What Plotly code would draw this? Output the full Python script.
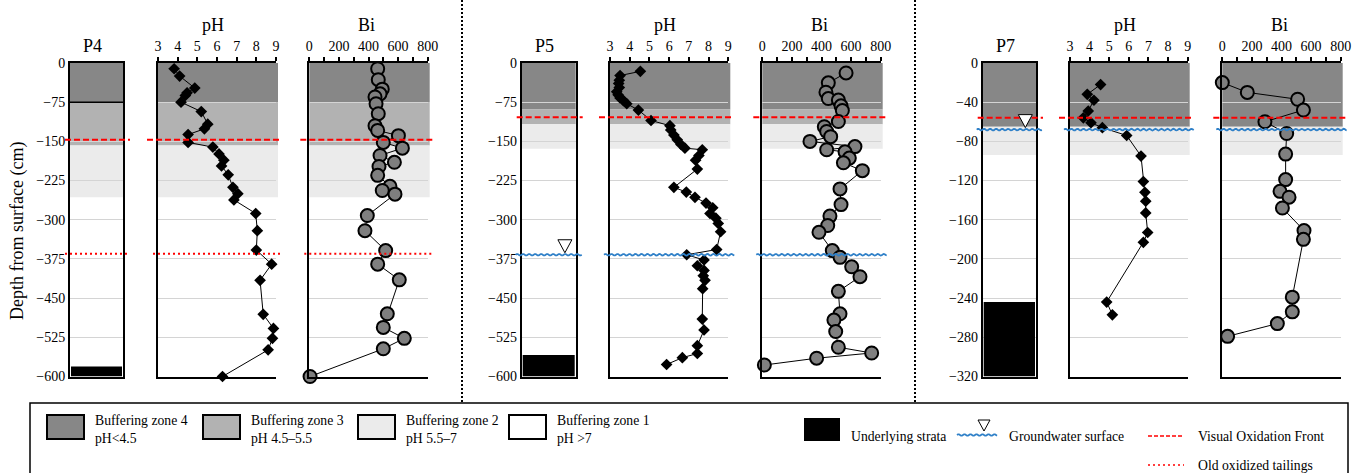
import math
import plotly.graph_objects as go

W, H = 1357, 473

# ---------------- data ----------------
profiles = ["P4", "P5", "P7"]
depth_max = [600, 600, 320]
depth_step = [75, 75, 40]

ph_ticks = [3, 4, 5, 6, 7, 8, 9]
bi_ticks = [0, 200, 400, 600, 800]

# buffering zones (top, bottom depth in cm)
p4_zone4 = [0, -75]
p4_zone3 = [-75, -158]
p4_zone2 = [-158, -257]
p4_under = [-581, -600]

p5_zone4 = [0, -89]
p5_zone3 = [-89, -117]
p5_zone2 = [-117, -164]
p5_under = [-559, -600]

p7_zone4 = [0, -65]
p7_zone3 = None
p7_zone2 = [-65, -94]
p7_under = [-244, -320]

p4_oxfront = -147
p5_oxfront = -104
p7_oxfront = -56
p4_old_oxidized = -365
p5_groundwater = -367
p7_groundwater = -68

p4_ph_depth = [-11, -25, -48, -57, -62, -75, -93, -117, -126, -137, -152, -161, -174, -186, -197,
               -214, -238, -250, -262, -288, -321, -358, -385, -416, -481, -508, -527, -549, -600]
p4_ph = [3.82, 4.1, 4.87, 4.48, 4.39, 4.17, 5.2, 5.53, 5.36, 4.53, 4.53, 5.79, 6.1, 6.35, 6.23,
         6.57, 6.81, 7.06, 6.86, 7.97, 8.05, 8.0, 8.78, 8.19, 8.35, 8.87, 8.82, 8.6, 6.28]

p4_bi_depth = [-11, -32, -50, -59, -65, -78, -97, -120, -129, -139, -152, -163, -177, -190, -198,
               -215, -236, -244, -251, -292, -321, -359, -385, -415, -480, -506, -527, -547, -600]
p4_bi = [462, 466, 493, 478, 444, 451, 466, 444, 462, 602, 500, 629, 478, 575, 471,
         462, 545, 493, 579, 392, 376, 516, 462, 608, 527, 500, 642, 500, 5]

p5_ph_depth = [-16, -24, -33, -39, -47, -55, -61, -67, -72, -78, -90, -110, -120, -128, -138,
               -147, -156, -163, -166, -177, -186, -203, -238, -247, -257, -268, -277, -288, -297,
               -307, -323, -357, -367, -377, -388, -397, -407, -416, -432, -490, -511, -541, -556,
               -564, -577]
p5_ph = [4.54, 3.51, 3.47, 3.44, 3.47, 3.34, 3.41, 3.51, 3.68, 3.85, 4.44, 5.08, 6.04, 6.08, 6.24,
         6.41, 6.6, 6.8, 7.68, 7.51, 7.34, 7.43, 6.24, 6.87, 7.31, 7.87, 8.21, 8.07, 8.37,
         8.49, 8.61, 8.41, 6.89, 7.77, 7.43, 7.77, 7.73, 7.82, 7.7, 7.68, 7.77, 7.43, 7.43,
         6.67, 5.87]

p5_bi_depth = [-19, -38, -56, -68, -71, -82, -91, -112, -122, -131, -141, -150, -160, -166, -170,
               -182, -191, -206, -241, -271, -293, -311, -324, -359, -372, -390, -409, -437, -480,
               -492, -514, -544, -555, -565, -578]
p5_bi = [566, 446, 430, 446, 514, 532, 541, 514, 419, 435, 462, 322, 626, 435, 559,
         588, 548, 676, 525, 532, 457, 442, 383, 473, 525, 604, 660, 514, 525,
         484, 496, 514, 739, 367, 14]

p7_ph_depth = [-22, -32, -38, -49, -56, -61, -66, -74, -95, -121, -132, -141, -153, -173, -183, -244, -257]
p7_ph = [4.56, 3.88, 4.22, 3.93, 3.68, 4.07, 4.65, 5.89, 6.62, 6.74, 6.82, 6.86, 6.86, 6.96, 6.74, 4.87, 5.16]

p7_bi_depth = [-20, -30, -37, -48, -60, -72, -93, -119, -131, -137, -148, -171, -180, -239, -254, -266, -279]
p7_bi = [0, 169, 509, 548, 288, 435, 428, 428, 390, 451, 406, 552, 548, 473, 473, 372, 36]

zone_labels = ["Buffering zone 4<br>pH&lt;4.5", "Buffering zone 3<br>pH 4.5–5.5",
               "Buffering zone 2<br>pH 5.5–7", "Buffering zone 1<br>pH >7"]

# ---------------- styles / layout ----------------
FONT = "Liberation Serif"
Z_COLORS = ["#878787", "#b2b2b2", "#ebebeb", "#ffffff"]
GRID = "#d4d4d4"
RED = "#ff0000"
BLUE = "#2f80c8"
LEG_SIZE = 13.7

col_px = [(70, 123), (521.7, 575.7), (982.7, 1036)]
ph_px = [(158, 276), (610, 728.3), (1070, 1187.7)]
bi_px = [(309.3, 427.7), (762.3, 880.7), (1222.3, 1340.7)]
top_px, bot_px = 63, 376.5


def PX(x):
    return x / W


def PY(y):
    return 1 - y / H


groups = [
    dict(zones=[p4_zone4, p4_zone3, p4_zone2], under=p4_under, ox=p4_oxfront, old=p4_old_oxidized,
         gw=None, ph=(p4_ph_depth, p4_ph), bi=(p4_bi_depth, p4_bi)),
    dict(zones=[p5_zone4, p5_zone3, p5_zone2], under=p5_under, ox=p5_oxfront, old=None,
         gw=p5_groundwater, ph=(p5_ph_depth, p5_ph), bi=(p5_bi_depth, p5_bi)),
    dict(zones=[p7_zone4, p7_zone3, p7_zone2], under=p7_under, ox=p7_oxfront, old=None,
         gw=p7_groundwater, ph=(p7_ph_depth, p7_ph), bi=(p7_bi_depth, p7_bi)),
]

fig = go.Figure()
layout_axes = {}
shapes = []
annotations = []
TICKFONT = dict(family=FONT, size=14, color="black")


def sfx(k):
    return "" if k == 1 else str(k)


def wave_path(length, amp=0.8, period=6.0):
    pts = []
    n = int(length / 1.0)
    for i in range(n + 1):
        x = i * length / n
        y = amp * math.sin(2 * math.pi * x / period)
        pts.append(f"{x:.2f},{y:.2f}")
    return "M" + " L".join(pts)


def label(text, x, y, size=LEG_SIZE, xanchor="center", yanchor="middle", **kw):
    d = dict(text=text, xref="paper", yref="paper", x=PX(x), y=PY(y), xanchor=xanchor,
             yanchor=yanchor, showarrow=False, font=dict(size=size))
    d.update(kw)
    annotations.append(d)


for g, grp in enumerate(groups):
    dmax = depth_max[g]
    ids = [3 * g + 1, 3 * g + 2, 3 * g + 3]
    pxs = [col_px[g], ph_px[g], bi_px[g]]
    yd = [PY(bot_px), PY(top_px)]
    for j, k in enumerate(ids):
        s = sfx(k)
        xd = [PX(pxs[j][0]), PX(pxs[j][1])]
        yax = dict(domain=yd, anchor="x" + s, range=[-dmax, 0], dtick=depth_step[g], tick0=0,
                   showgrid=True, gridcolor=GRID, gridwidth=1, zeroline=False,
                   showline=True, linecolor="black", linewidth=2, ticks="",
                   showticklabels=(j == 0), tickfont=TICKFONT, mirror=(j == 0),
                   automargin=False)
        if j == 0:
            xax = dict(domain=xd, anchor="y" + s, range=[0, 1], showgrid=False, zeroline=False,
                       showline=True, mirror=True, linecolor="black", linewidth=2,
                       showticklabels=False, ticks="", automargin=False)
        elif j == 1:
            xax = dict(domain=xd, anchor="y" + s, range=[3, 9], tickvals=ph_ticks, side="top",
                       ticks="outside", ticklen=4, tickwidth=1.5, tickcolor="black",
                       showline=True, mirror=True, linecolor="black", linewidth=2,
                       showgrid=False, zeroline=False, tickfont=TICKFONT, automargin=False)
        else:
            xax = dict(domain=xd, anchor="y" + s, range=[0, 800], tickvals=bi_ticks, side="top",
                       ticks="outside", ticklen=4, tickwidth=1.5, tickcolor="black",
                       minor=dict(dtick=100, tick0=0, ticks="outside", ticklen=4, tickcolor="black",
                                  tickwidth=1.5, showgrid=False),
                       showline=True, mirror=True, linecolor="black", linewidth=2,
                       showgrid=False, zeroline=False, tickfont=TICKFONT, automargin=False)
        layout_axes["xaxis" + s] = xax
        layout_axes["yaxis" + s] = yax

        # zone shading
        x_left = PX(pxs[j][0])
        x_right = PX(pxs[j][1] + (0 if j == 0 else 2))
        for zi, zone in enumerate(grp["zones"]):
            if zone is None:
                continue
            shapes.append(dict(type="rect", xref="paper", yref="y" + s, x0=x_left, x1=x_right,
                               y0=zone[0], y1=zone[1], fillcolor=Z_COLORS[zi], line=dict(width=0),
                               layer="below"))
        if j == 0:
            # underlying strata drawn above the gridlines
            shapes.append(dict(type="rect", xref="paper", yref="y" + s,
                               x0=PX(pxs[j][0] + 1), x1=PX(pxs[j][1] - 1),
                               y0=grp["under"][0], y1=grp["under"][1], fillcolor="black",
                               line=dict(width=0), layer="above"))
            if g == 0:
                shapes.append(dict(type="line", xref="paper", yref="y" + s, x0=x_left, x1=x_right,
                                   y0=grp["zones"][0][1], y1=grp["zones"][0][1],
                                   line=dict(color="black", width=1.5), layer="above"))

    # traces
    s_col, s_ph, s_bi = sfx(ids[0]), sfx(ids[1]), sfx(ids[2])
    fig.add_trace(go.Scatter(x=[None], y=[None], xaxis="x" + s_col, yaxis="y" + s_col,
                             showlegend=False, hoverinfo="skip"))
    pd_, pv = grp["ph"]
    fig.add_trace(go.Scatter(x=pv, y=pd_, xaxis="x" + s_ph, yaxis="y" + s_ph, mode="lines+markers",
                             line=dict(color="black", width=1),
                             marker=dict(symbol="diamond", size=9, color="black",
                                         line=dict(width=0)),
                             cliponaxis=False, showlegend=False))
    bd, bv = grp["bi"]
    fig.add_trace(go.Scatter(x=bv, y=bd, xaxis="x" + s_bi, yaxis="y" + s_bi, mode="lines+markers",
                             line=dict(color="black", width=1),
                             marker=dict(symbol="circle", size=13, color="#7f7f7f",
                                         line=dict(width=2, color="black")),
                             cliponaxis=False, showlegend=False))

    # reference lines
    ext = [(5, 7), (11, 4), (9, 5)]
    for j, k in enumerate(ids):
        s = sfx(k)
        shapes.append(dict(type="line", xref="paper", yref="y" + s,
                           x0=PX(pxs[j][0] - ext[j][0]), x1=PX(pxs[j][1] + ext[j][1]),
                           y0=grp["ox"], y1=grp["ox"],
                           line=dict(color=RED, width=2, dash="6px,3px"), layer="above"))
        if grp["old"] is not None:
            shapes.append(dict(type="line", xref="paper", yref="y" + s,
                               x0=PX(pxs[j][0] - 5), x1=PX(pxs[j][1] + 5),
                               y0=grp["old"], y1=grp["old"],
                               line=dict(color=RED, width=2, dash="2px,3px"), layer="above"))
        if grp["gw"] is not None:
            x0 = pxs[j][0] - 6
            length = (pxs[j][1] + 6) - x0
            shapes.append(dict(type="path", xref="paper", yref="y" + s,
                               xsizemode="pixel", ysizemode="pixel",
                               xanchor=PX(x0), yanchor=grp["gw"],
                               path=wave_path(length),
                               line=dict(color=BLUE, width=1.8), layer="above"))
    if grp["gw"] is not None:
        cx = pxs[0][0] + 0.8 * (pxs[0][1] - pxs[0][0])
        shapes.append(dict(type="path", xref="paper", yref="y" + s_col,
                           xsizemode="pixel", ysizemode="pixel",
                           xanchor=PX(cx), yanchor=grp["gw"],
                           path="M-7,15 L7,15 L0,2 Z", fillcolor="white",
                           line=dict(color="black", width=1), layer="above"))

    # titles
    label(profiles[g], (pxs[0][0] + pxs[0][1]) / 2 - 4, 46, size=18)
    label("pH", (pxs[1][0] + pxs[1][1]) / 2 - 4, 25, size=18)
    label("Bi", (pxs[2][0] + pxs[2][1]) / 2 - 2, 25, size=18)

label("Depth from surface (cm)", 17, 231, size=18, textangle=-90)

# separators
for sx in [462, 915]:
    shapes.append(dict(type="line", xref="paper", yref="paper", x0=PX(sx), x1=PX(sx),
                       y0=PY(0), y1=PY(403), line=dict(color="black", width=2, dash="2px,2px")))

# legend box
shapes.append(dict(type="rect", xref="paper", yref="paper", x0=PX(30), x1=PX(1348),
                   y0=PY(403), y1=PY(490), line=dict(color="black", width=1.5)))

sw_x = [47, 203, 358, 509]
for i, lbl in enumerate(zone_labels):
    shapes.append(dict(type="rect", xref="paper", yref="paper", x0=PX(sw_x[i]), x1=PX(sw_x[i] + 37),
                       y0=PY(415), y1=PY(439), fillcolor=Z_COLORS[i],
                       line=dict(color="black", width=2)))
    label(lbl, sw_x[i] + 46, 411, xanchor="left", yanchor="top", align="left")

shapes.append(dict(type="rect", xref="paper", yref="paper", x0=PX(804), x1=PX(840),
                   y0=PY(418), y1=PY(441), fillcolor="black", line=dict(width=0)))
label("Underlying strata", 849, 436, xanchor="left")
shapes.append(dict(type="path", xref="paper", yref="paper", xsizemode="pixel", ysizemode="pixel",
                   xanchor=PX(957), yanchor=PY(435), path=wave_path(40),
                   line=dict(color=BLUE, width=1.8)))
shapes.append(dict(type="path", xref="paper", yref="paper", xsizemode="pixel", ysizemode="pixel",
                   xanchor=PX(984), yanchor=PY(432), path="M-6,12 L6,12 L0,1 Z", fillcolor="white",
                   line=dict(color="black", width=1)))
label("Groundwater surface", 1007, 436, xanchor="left")
shapes.append(dict(type="line", xref="paper", yref="paper", x0=PX(1148), x1=PX(1184),
                   y0=PY(436), y1=PY(436), line=dict(color=RED, width=1.5, dash="4px,2px")))
label("Visual Oxidation Front", 1196, 436, xanchor="left")
shapes.append(dict(type="line", xref="paper", yref="paper", x0=PX(1148), x1=PX(1184),
                   y0=PY(465), y1=PY(465), line=dict(color=RED, width=1.5, dash="2px,3px")))
label("Old oxidized tailings", 1196, 465, xanchor="left")

fig.update_layout(
    width=W, height=H,
    margin=dict(l=0, r=0, t=0, b=0, autoexpand=False),
    paper_bgcolor="white", plot_bgcolor="rgba(0,0,0,0)",
    font=dict(family=FONT, color="black", size=14),
    showlegend=False,
    shapes=shapes,
    annotations=annotations,
    **layout_axes,
)

fig.write_html("out.html", config={"displayModeBar": False},
               post_script="document.body.style.margin='0px';document.body.style.overflow='hidden';")
